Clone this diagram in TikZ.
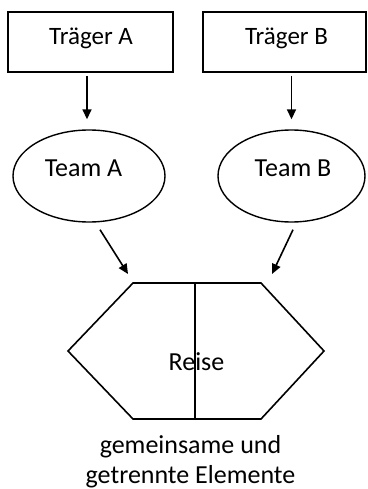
\documentclass[tikz,border=0pt]{standalone}
\usepackage{fontspec}
\setmainfont{Carlito}
\usetikzlibrary{shapes.geometric,arrows.meta}
\begin{document}
\begin{tikzpicture}[x=1pt,y=-1pt,
  txt/.style={inner sep=0pt,anchor=base,font=\fontsize{26}{30}\selectfont},
  small/.style={font=\fontsize{25}{30}\selectfont},
  carrier/.style={draw,line width=1.8pt,rectangle,inner sep=0pt},
  team/.style={draw,line width=1.4pt,ellipse,inner sep=0pt,minimum height=92pt},
  arr/.style={line width=1.6pt,-{Triangle[length=10pt,width=9pt]}},
  hexline/.style={line width=1.6pt,line join=miter}]
  \useasboundingbox (0,0) rectangle (367,489);

  % carriers
  \node[carrier,minimum width=165pt,minimum height=60pt] (boxA) at (90.5,42) {};
  \node[carrier,minimum width=163pt,minimum height=60pt] (boxB) at (284.5,42) {};
  \node[txt,small] (lblA) at (91,45) {Träger A};
  \node[txt,small] (lblB) at (286.5,45) {Träger B};

  % teams
  \node[team,minimum width=152pt] (teamA) at (89,176) {};
  \node[team,minimum width=147pt] (teamB) at (291.5,176) {};
  \node[txt] (lblTA) at (83.5,176.7) {Team A};
  \node[txt] (lblTB) at (293,176.7) {Team B};

  % carrier to team
  \draw[arr,shorten <=3pt,shorten >=10pt]
    ([xshift=-2pt]teamA.north |- boxA.south) -- ([xshift=-2pt]teamA.north);
  \draw[arr,shorten <=3pt,shorten >=10pt]
    (teamB.north |- boxB.south) -- (teamB.north);

  % journey hexagon with its dividing line
  \coordinate (hTL) at (133,283);
  \coordinate (hTR) at (261,283);
  \coordinate (hR)  at (324,351);
  \coordinate (hBR) at (261,419);
  \coordinate (hBL) at (133,419);
  \coordinate (hL)  at (68,351);
  \coordinate (dTop) at (195,283);
  \coordinate (dBot) at (195,419);
  \draw[hexline] (hTL) -- (hTR) -- (hR) -- (hBR) -- (hBL) -- (hL) -- cycle;
  \draw[hexline] (dTop) -- (dBot);
  \node[txt] (reise) at (196.5,370) {Reise};

  % teams to journey
  \coordinate (tipA) at (128,274);
  \coordinate (tipB) at (272,274);
  \draw[arr] ([shift={(11,7)}]teamA.south) -- (tipA);
  \draw[arr] ([shift={(1.5,7)}]teamB.south) -- (tipB);

  % caption
  \node[txt] (cap1) at (190.5,453) {gemeinsame und};
  \node[txt] (cap2) at (190.5,483) {getrennte Elemente};
\end{tikzpicture}
\end{document}
